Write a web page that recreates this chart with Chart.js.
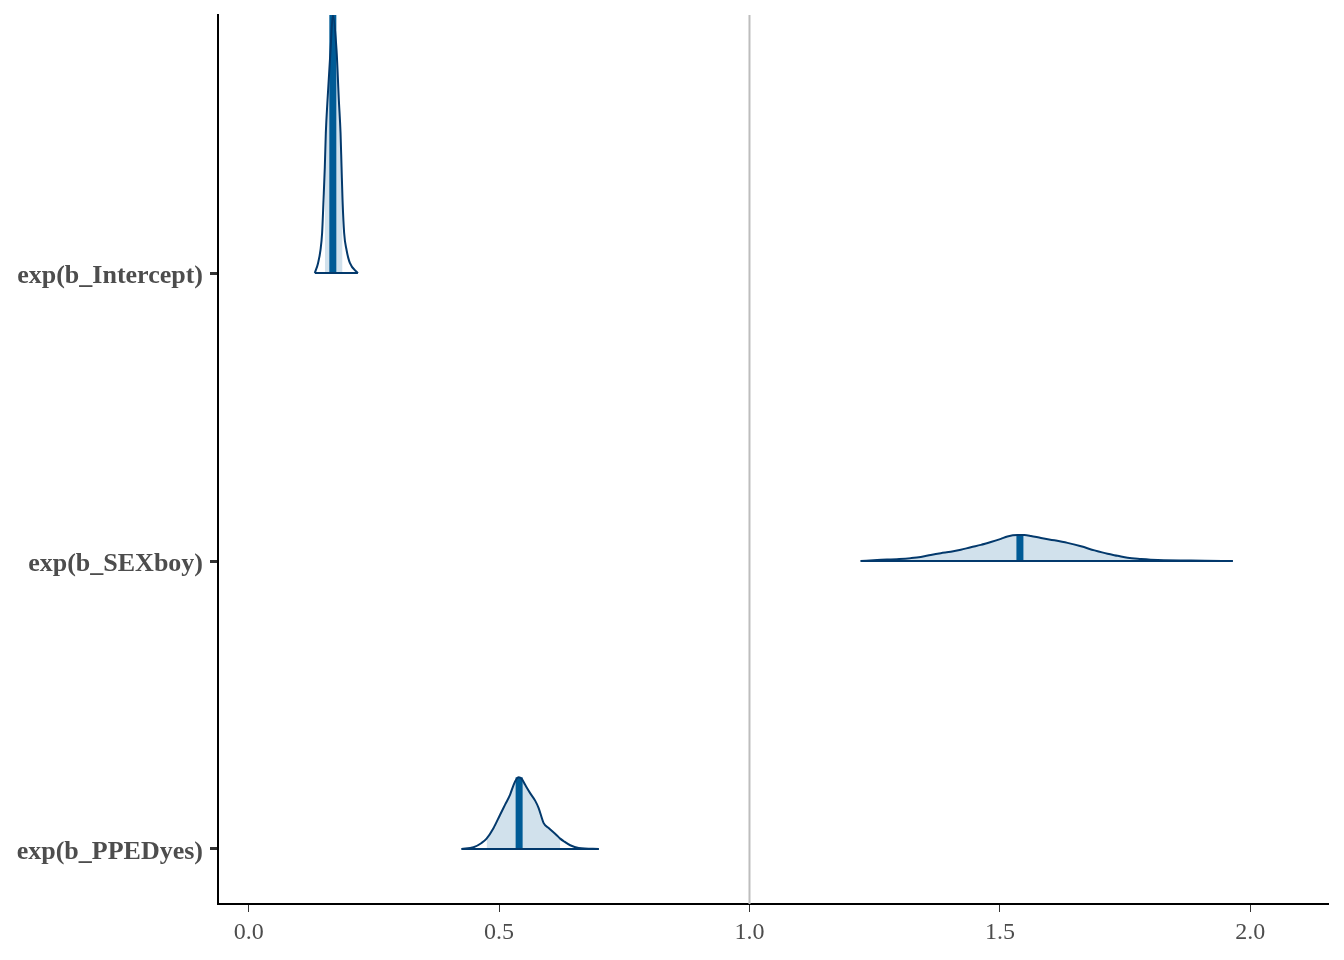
<!DOCTYPE html>
<html>
<head>
<meta charset="utf-8">
<script src="https://cdn.jsdelivr.net/npm/chart.js@4"></script>
<style>
  html, body { margin: 0; padding: 0; background: #ffffff; }
  canvas { display: block; }
</style>
</head>
<body>
<canvas id="c" width="1344" height="960"></canvas>
<script>
// ---- data ----
const params = ['exp(b_Intercept)', 'exp(b_SEXboy)', 'exp(b_PPEDyes)'];
const rowPos = [3, 2, 1];

const interceptX = [0.132, 0.1386, 0.1434, 0.1466, 0.1494, 0.152, 0.154, 0.1574, 0.1634, 0.168, 0.1754, 0.180, 0.1834, 0.1854, 0.1874, 0.1906, 0.1954, 0.202, 0.218];
const interceptH = [0, 0.035, 0.080, 0.139, 0.253, 0.368, 0.486, 0.601, 0.774, 0.896, 0.774, 0.601, 0.486, 0.368, 0.253, 0.139, 0.080, 0.035, 0];

const sexX = [1.222, 1.255, 1.299, 1.322, 1.342, 1.362, 1.382, 1.402, 1.422, 1.442, 1.462, 1.482, 1.502, 1.515, 1.535, 1.549, 1.562, 1.582, 1.609, 1.635, 1.662, 1.689, 1.715, 1.735, 1.755, 1.782, 1.815, 1.909, 1.965];
const sexH = [0, 0.0035, 0.007, 0.010, 0.014, 0.021, 0.027, 0.032, 0.039, 0.048, 0.056, 0.066, 0.077, 0.085, 0.090, 0.090, 0.087, 0.080, 0.072, 0.063, 0.051, 0.037, 0.025, 0.018, 0.011, 0.007, 0.0035, 0.001, 0];

const ppedX = [0.425, 0.449, 0.465, 0.475, 0.489, 0.502, 0.512, 0.522, 0.529, 0.535, 0.539, 0.545, 0.552, 0.562, 0.572, 0.579, 0.589, 0.599, 0.615, 0.622, 0.629, 0.642, 0.659, 0.699];
const ppedH = [0, 0.006, 0.021, 0.036, 0.073, 0.119, 0.154, 0.189, 0.223, 0.244, 0.249, 0.244, 0.223, 0.194, 0.168, 0.142, 0.090, 0.073, 0.048, 0.036, 0.027, 0.013, 0.0035, 0];

const innerLo = [0.152, 1.322, 0.475];
const innerHi = [0.1874, 1.782, 0.622];
const medians = [0.168, 1.540, 0.540];
const medianH = [0.896, 0.090, 0.249];

const xTicks = [0, 0.5, 1, 1.5, 2];
const refLineX = 1.0;

// ---- styling ----
const COL_LIGHT = '#d1e1ec';
const COL_MEDIAN = '#005b96';
const COL_OUTLINE = '#03396c';
const X_MIN = -0.0613, X_MAX = 2.1552;
const Y_MIN = 0.809, Y_MAX = 3.896;

const curvesX = [interceptX, sexX, ppedX];
const curvesH = [interceptH, sexH, ppedH];

const datasets = [];
// reference line at x = 1
datasets.push({
  data: [{x: refLineX, y: Y_MIN}, {x: refLineX, y: Y_MAX}],
  showLine: true, borderColor: '#bdbdbd', borderWidth: 2, pointRadius: 0, order: 10
});

for (let k = 0; k < params.length; k++) {
  const base = rowPos[k];
  const xs = curvesX[k], hs = curvesH[k];
  const curve = xs.map((x, i) => ({x: x, y: base + hs[i]}));
  const inner = [];
  xs.forEach((x, i) => {
    if (x >= innerLo[k] - 1e-9 && x <= innerHi[k] + 1e-9) inner.push({x: x, y: base + hs[i]});
  });
  // inner interval fill
  datasets.push({
    data: inner, showLine: true, borderWidth: 0, borderColor: 'rgba(0,0,0,0)',
    backgroundColor: COL_LIGHT, fill: {value: base}, pointRadius: 0,
    cubicInterpolationMode: 'monotone', order: 5
  });
  // median segment
  datasets.push({
    data: [{x: medians[k], y: base}, {x: medians[k], y: base + medianH[k]}],
    showLine: true, borderColor: COL_MEDIAN, borderWidth: 7, borderCapStyle: 'butt',
    pointRadius: 0, fill: false, order: 4
  });
  // baseline
  datasets.push({
    data: [{x: xs[0], y: base}, {x: xs[xs.length - 1], y: base}],
    showLine: true, borderColor: COL_OUTLINE, borderWidth: 2, pointRadius: 0, fill: false, order: 2
  });
  // density outline
  datasets.push({
    data: curve, showLine: true, borderColor: COL_OUTLINE, borderWidth: 2,
    pointRadius: 0, fill: false, cubicInterpolationMode: 'monotone', order: 1
  });
}

new Chart(document.getElementById('c'), {
  type: 'scatter',
  data: { datasets: datasets },
  options: {
    responsive: false,
    animation: false,
    events: [],
    layout: { padding: { top: 15, right: 16, left: 0, bottom: 0 } },
    plugins: { legend: { display: false }, tooltip: { enabled: false } },
    scales: {
      x: {
        type: 'linear', min: X_MIN, max: X_MAX,
        afterBuildTicks: (s) => { s.ticks = xTicks.map(v => ({value: v})); },
        afterFit: (s) => { s.height = 56; s.paddingLeft = 0; s.paddingRight = 0; },
        ticks: {
          callback: (v) => Number(v).toFixed(1),
          font: { family: 'Liberation Serif', size: 24 },
          color: '#4d4d4d', padding: 6, maxRotation: 0, autoSkip: false
        },
        grid: { drawOnChartArea: false, drawTicks: true, tickLength: 8, tickWidth: 1, tickColor: '#333333' },
        border: { display: true, color: '#000000', width: 2 }
      },
      y: {
        type: 'linear', min: Y_MIN, max: Y_MAX,
        afterBuildTicks: (s) => { s.ticks = rowPos.map(v => ({value: v})); },
        afterFit: (s) => { s.width = 218; s.paddingTop = 0; s.paddingBottom = 0; },
        ticks: {
          callback: (v) => { const i = rowPos.indexOf(v); return i >= 0 ? params[i] : ''; },
          font: { family: 'Liberation Serif', size: 26, weight: 'bold' },
          color: '#4d4d4d', padding: 7, autoSkip: false, labelOffset: 3
        },
        grid: { drawOnChartArea: false, drawTicks: true, tickLength: 8, tickWidth: 3, tickColor: '#333333' },
        border: { display: true, color: '#000000', width: 2 }
      }
    }
  }
});
</script>
</body>
</html>
